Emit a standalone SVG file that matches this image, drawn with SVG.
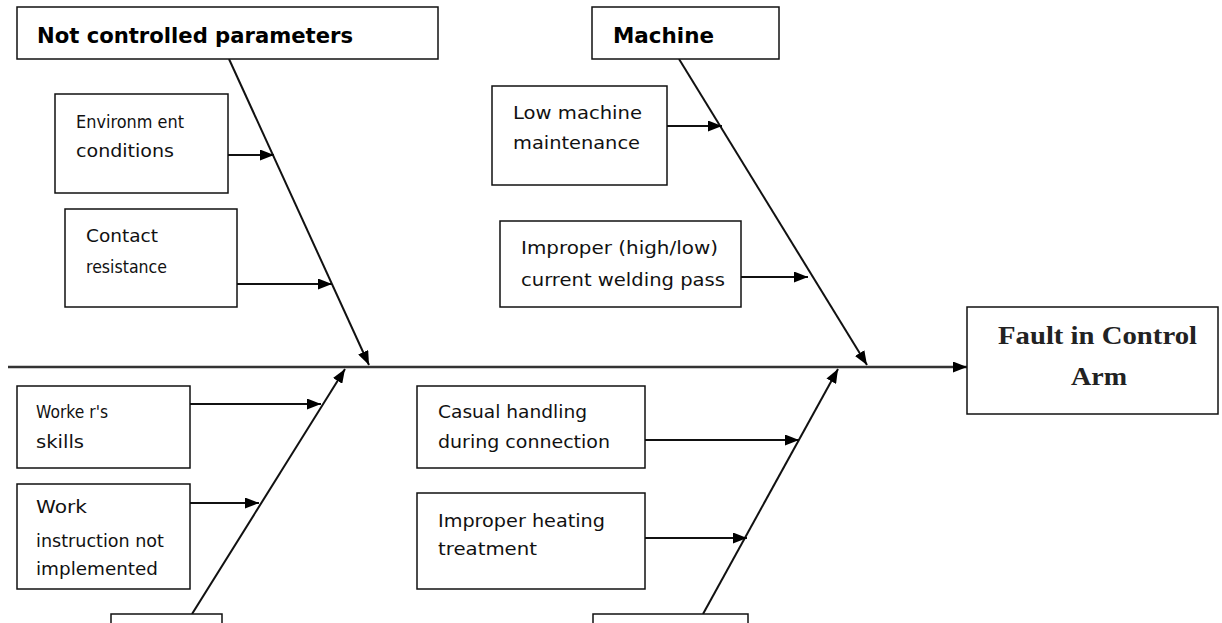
<svg xmlns="http://www.w3.org/2000/svg" width="1222" height="623" viewBox="0 0 1222 623">
  <style>
    .box { fill: #fff; stroke: #111; stroke-width: 1.5; }
    .cause { font-family: "DejaVu Sans", "Liberation Sans", sans-serif; font-size: 18px; fill: #111; }
    .head { font-family: "DejaVu Sans", "Liberation Sans", sans-serif; font-size: 21px; font-weight: bold; fill: #000; }
    .effect { font-family: "Liberation Serif", "Times New Roman", serif; font-size: 26px; font-weight: bold; fill: #222; }
    .bone { stroke: #111; stroke-width: 2; fill: none; }
    .spine { stroke: #333; stroke-width: 2.5; fill: none; }
    .twig { stroke: #111; stroke-width: 1.8; fill: none; }
  </style>
  <defs>
    <marker id="ah" viewBox="0 0 14 11" refX="14" refY="5.5" markerWidth="14" markerHeight="11" orient="auto" markerUnits="userSpaceOnUse">
      <path d="M0,0 L14,5.5 L0,11 z" fill="#000"/>
    </marker>
  </defs>
  <rect width="1222" height="623" fill="#fff"/>

  <!-- connectors: spine, category bones and cause arrows -->
  <g id="connectors">
    <line class="spine" x1="8" y1="367" x2="967" y2="367" marker-end="url(#ah)"/>
    <line class="bone" x1="229" y1="59" x2="369" y2="365" marker-end="url(#ah)"/>
    <line class="bone" x1="679" y1="59" x2="867" y2="365" marker-end="url(#ah)"/>
    <line class="bone" x1="192" y1="614" x2="345" y2="369" marker-end="url(#ah)"/>
    <line class="bone" x1="703" y1="614" x2="838" y2="369" marker-end="url(#ah)"/>
    <line class="twig" x1="228" y1="155" x2="274" y2="155" marker-end="url(#ah)"/>
    <line class="twig" x1="237" y1="284" x2="332" y2="284" marker-end="url(#ah)"/>
    <line class="twig" x1="667" y1="126" x2="722" y2="126" marker-end="url(#ah)"/>
    <line class="twig" x1="741" y1="277" x2="808" y2="277" marker-end="url(#ah)"/>
    <line class="twig" x1="190" y1="404" x2="321" y2="404" marker-end="url(#ah)"/>
    <line class="twig" x1="190" y1="503" x2="259" y2="503" marker-end="url(#ah)"/>
    <line class="twig" x1="645" y1="440" x2="799" y2="440" marker-end="url(#ah)"/>
    <line class="twig" x1="645" y1="538" x2="747" y2="538" marker-end="url(#ah)"/>
  </g>

  <g id="not-controlled">
    <rect class="box" x="17" y="7" width="421" height="52"/>
    <text class="head" x="37" y="43" textLength="316" lengthAdjust="spacingAndGlyphs">Not controlled parameters</text>
  </g>

  <g id="machine">
    <rect class="box" x="592" y="7" width="187" height="52"/>
    <text class="head" x="613" y="43" textLength="101" lengthAdjust="spacingAndGlyphs">Machine</text>
  </g>

  <g id="environment">
    <rect class="box" x="55" y="94" width="173" height="99"/>
    <text class="cause" x="76" y="128" textLength="108" lengthAdjust="spacingAndGlyphs">Environm ent</text>
    <text class="cause" x="76" y="157" textLength="98" lengthAdjust="spacingAndGlyphs">conditions</text>
  </g>

  <g id="contact">
    <rect class="box" x="65" y="209" width="172" height="98"/>
    <text class="cause" x="86" y="242" textLength="72" lengthAdjust="spacingAndGlyphs">Contact</text>
    <text class="cause" x="86" y="273" textLength="81" lengthAdjust="spacingAndGlyphs">resistance</text>
  </g>

  <g id="maintenance">
    <rect class="box" x="492" y="86" width="175" height="99"/>
    <text class="cause" x="513" y="119" textLength="129" lengthAdjust="spacingAndGlyphs">Low machine</text>
    <text class="cause" x="513" y="149" textLength="127" lengthAdjust="spacingAndGlyphs">maintenance</text>
  </g>

  <g id="current">
    <rect class="box" x="500" y="221" width="241" height="86"/>
    <text class="cause" x="521" y="254" textLength="197" lengthAdjust="spacingAndGlyphs">Improper (high/low)</text>
    <text class="cause" x="521" y="286" textLength="204" lengthAdjust="spacingAndGlyphs">current welding pass</text>
  </g>

  <g id="effect">
    <rect class="box" x="967" y="307" width="251" height="107"/>
    <text class="effect" x="998" y="344" textLength="199" lengthAdjust="spacingAndGlyphs">Fault in Control</text>
    <text class="effect" x="1071" y="385" textLength="56" lengthAdjust="spacingAndGlyphs">Arm</text>
  </g>

  <g id="skills">
    <rect class="box" x="17" y="386" width="173" height="82"/>
    <text class="cause" x="36" y="418" textLength="72" lengthAdjust="spacingAndGlyphs">Worke r's</text>
    <text class="cause" x="36" y="448" textLength="48" lengthAdjust="spacingAndGlyphs">skills</text>
  </g>

  <g id="instruction">
    <rect class="box" x="17" y="484" width="173" height="105"/>
    <text class="cause" x="36" y="513" textLength="51" lengthAdjust="spacingAndGlyphs">Work</text>
    <text class="cause" x="36" y="547" textLength="128" lengthAdjust="spacingAndGlyphs">instruction not</text>
    <text class="cause" x="36" y="575" textLength="122" lengthAdjust="spacingAndGlyphs">implemented</text>
  </g>

  <g id="handling">
    <rect class="box" x="417" y="386" width="228" height="82"/>
    <text class="cause" x="438" y="418" textLength="149" lengthAdjust="spacingAndGlyphs">Casual handling</text>
    <text class="cause" x="438" y="448" textLength="172" lengthAdjust="spacingAndGlyphs">during connection</text>
  </g>

  <g id="heating">
    <rect class="box" x="417" y="493" width="228" height="96"/>
    <text class="cause" x="438" y="527" textLength="167" lengthAdjust="spacingAndGlyphs">Improper heating</text>
    <text class="cause" x="438" y="555" textLength="99" lengthAdjust="spacingAndGlyphs">treatment</text>
  </g>

  <g id="man">
    <rect class="box" x="111" y="614" width="111" height="30"/>
  </g>

  <g id="method">
    <rect class="box" x="593" y="614" width="155" height="30"/>
  </g>
</svg>
